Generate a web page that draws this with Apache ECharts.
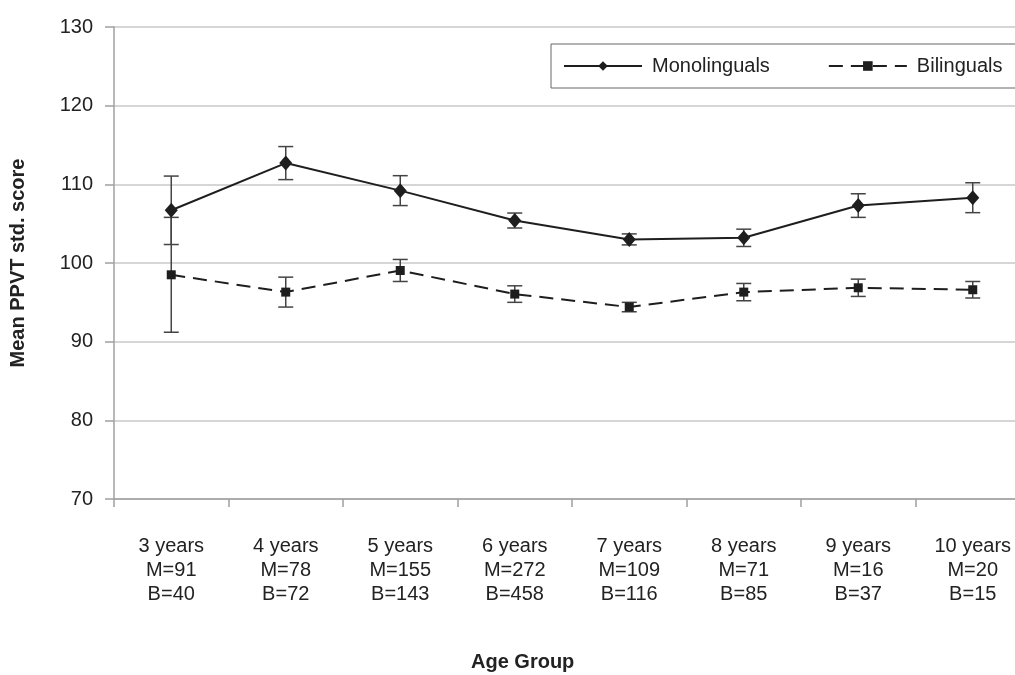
<!DOCTYPE html>
<html>
<head>
<meta charset="utf-8">
<script src="https://cdn.jsdelivr.net/npm/echarts@6/dist/echarts.min.js"></script>
<style>
html,body{margin:0;padding:0;background:#fff;overflow:hidden;}
#chart{width:1015px;height:675px;}
</style>
</head>
<body>
<div id="chart"></div>
<script>
var categories = ['3 years\nM=91\nB=40','4 years\nM=78\nB=72','5 years\nM=155\nB=143','6 years\nM=272\nB=458','7 years\nM=109\nB=116','8 years\nM=71\nB=85','9 years\nM=16\nB=37','10 years\nM=20\nB=15'];
var monoMean = [106.7, 112.7, 109.2, 105.4, 103.0, 103.2, 107.3, 108.3];
var monoErr  = [4.35, 2.1, 1.9, 0.95, 0.7, 1.1, 1.5, 1.9];
var biMean   = [98.5, 96.3, 99.05, 96.05, 94.4, 96.3, 96.85, 96.6];
var biErr    = [7.3, 1.9, 1.4, 1.05, 0.6, 1.1, 1.1, 1.05];
var yTicks = {min: 70, max: 130, interval: 10};

function errData(mean, err){
  return mean.map(function(m,i){ return [i, m - err[i], m + err[i]]; });
}
function errRender(params, api){
  var x = api.value(0);
  var lo = api.coord([x, api.value(1)]);
  var hi = api.coord([x, api.value(2)]);
  var w = 7.5;
  var st = {stroke:'#444', lineWidth:1.5};
  return {type:'group', children:[
    {type:'line', shape:{x1:hi[0], y1:hi[1], x2:lo[0], y2:lo[1]}, style:st},
    {type:'line', shape:{x1:hi[0]-w, y1:hi[1], x2:hi[0]+w, y2:hi[1]}, style:st},
    {type:'line', shape:{x1:lo[0]-w, y1:lo[1], x2:lo[0]+w, y2:lo[1]}, style:st}
  ]};
}

var chart = echarts.init(document.getElementById('chart'), null, {renderer:'canvas'});
chart.setOption({
  animation:false,
  backgroundColor:'#fff',
  textStyle:{fontFamily:'Liberation Sans, Arial, sans-serif'},
  grid:{left:114, width:916, top:27, height:472, containLabel:false, outerBoundsMode:'none'},
  legend:{
    orient:'horizontal',
    left:551, top:44, width:520,
    padding:[12, 30, 12, 12],
    borderColor:'#666', borderWidth:1,
    itemWidth:78, itemHeight:12, itemGap:58,
    textStyle:{fontSize:20, color:'#222', fontFamily:'Liberation Sans, Arial, sans-serif', padding:[0,0,0,5]},
    data:['Monolinguals','Bilinguals']
  },
  xAxis:{
    type:'category', data:categories, boundaryGap:true,
    axisLine:{lineStyle:{color:'#a0a0a0', width:1.5}},
    axisTick:{show:true, length:8, lineStyle:{color:'#a0a0a0', width:1.5}},
    axisLabel:{fontSize:20, color:'#222', lineHeight:24, margin:35, interval:0}
  },
  yAxis:{
    type:'value', min:yTicks.min, max:yTicks.max, interval:yTicks.interval,
    name:'Mean PPVT std. score', nameLocation:'middle', nameGap:86,
    nameTextStyle:{fontSize:20, fontWeight:'bold', color:'#222'},
    axisLine:{show:true, lineStyle:{color:'#a0a0a0', width:1.5}},
    axisTick:{show:true, length:9, lineStyle:{color:'#a0a0a0', width:1.5}},
    axisLabel:{fontSize:20, color:'#222', margin:21},
    splitLine:{lineStyle:{color:'#c8c8c8', width:1.5}}
  },
  graphic:[{type:'text', left:471, top:652, style:{text:'Age Group', fontSize:20, fontWeight:'bold', fill:'#222', fontFamily:'Liberation Sans, Arial, sans-serif'}}],
  series:[
    {type:'custom', name:'monoErr', renderItem:errRender, data:errData(monoMean, monoErr), encode:{x:0, y:[1,2]}, z:1, silent:true},
    {type:'custom', name:'biErr', renderItem:errRender, data:errData(biMean, biErr), encode:{x:0, y:[1,2]}, z:1, silent:true},
    {type:'line', name:'Monolinguals', data:monoMean, symbol:'diamond', symbolSize:[13,15],
     lineStyle:{color:'#1e1e1e', width:2}, itemStyle:{color:'#1e1e1e'}, z:3},
    {type:'line', name:'Bilinguals', data:biMean, symbol:'rect', symbolSize:9,
     lineStyle:{color:'#1e1e1e', width:2, type:[14,8]}, itemStyle:{color:'#1e1e1e'}, z:3}
  ]
});
</script>
</body>
</html>
